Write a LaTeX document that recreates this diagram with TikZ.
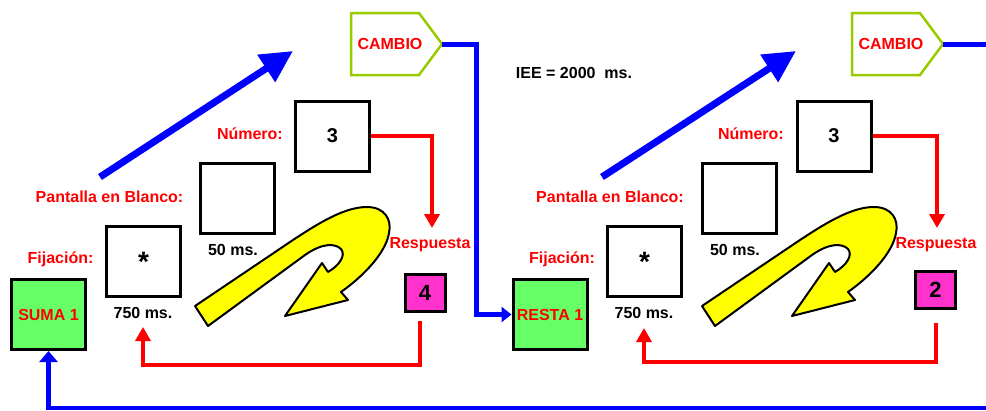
\documentclass[tikz,border=0pt]{standalone}
\usepackage{fontspec}
\setmainfont{Liberation Sans}
\usetikzlibrary{arrows.meta}
\definecolor{cred}{HTML}{FF0000}
\definecolor{cblue}{HTML}{0000FF}
\definecolor{cgreen}{HTML}{66FF66}
\definecolor{cmag}{HTML}{FF33CC}
\definecolor{cyel}{HTML}{FFFF00}
\definecolor{cbord}{HTML}{99CC00}
\tikzset{
  lbl/.style={font=\fontsize{16}{19}\selectfont\bfseries, text=cred, inner sep=0pt},
  blk/.style={font=\fontsize{16}{19}\selectfont\bfseries, text=black, inner sep=0pt},
  screen/.style={draw=black, line width=3pt, fill=white, minimum width=74pt, minimum height=70pt, inner sep=0pt},
  condbox/.style={screen, fill=cgreen, text=cred, font=\fontsize{16}{19}\selectfont\bfseries},
  respbox/.style={draw=black, line width=3pt, fill=cmag, minimum width=40pt, minimum height=37pt, inner sep=0pt, font=\fontsize{22}{24}\selectfont\bfseries},
  cambiobox/.style={draw=cbord, line width=2.5pt, fill=white},
  blueline/.style={draw=cblue, line width=5pt},
  redline/.style={draw=cred, line width=4pt},
  bigarrow/.style={draw=cblue, line width=7pt, -{Triangle[length=32pt,width=31pt]}},
  redtip/.style={-{Triangle[length=14pt,width=15pt]}},
  yarrow/.style={draw=black, line width=2pt, fill=cyel, line join=round},
  uturn/.pic={
    \path[yarrow] (195,306) -- (290,242) .. controls (320,222) and (345,207) .. (367,207)
      .. controls (385,207) and (392,220) .. (389,233)
      .. controls (386,252) and (365,275) .. (341,292) -- (348,300) -- (285,316) -- (322,263) -- (328,272)
      .. controls (340,265) and (346,255) .. (341,249)
      .. controls (335,243) and (322,243) .. (305,255) -- (208,326) -- cycle;
  }
}
\begin{document}
\begin{tikzpicture}[x=1pt,y=-1pt]
\useasboundingbox (0,0) rectangle (986,410);

% ---------- left half ----------
\path[cambiobox] (351,13) -- (419,13) -- (442,44) -- (419,75) -- (351,75) -- cycle;
\node[lbl] (cambioL) at (390,44) {CAMBIO};
\coordinate (cambioLtip) at (442,44);

\coordinate (bigLstart) at (100,177);
\coordinate (bigLend) at (293,51);
\draw[bigarrow] (bigLstart) -- (bigLend);

\node[screen, font=\fontsize{20}{22}\selectfont\bfseries] (numL) at (332.5,136) {3};
\node[lbl, anchor=east] (numlblL) at (283,134) {Número:};

\node[screen] (blankL) at (237.5,198) {};
\node[lbl] (pantL) at (109.5,197) {Pantalla en Blanco:};
\node[blk] (ms50L) at (233,250) {50 ms.};

\node[screen, font=\fontsize{28}{28}\selectfont\bfseries] (fixL) at (143.5,261.5) {\raisebox{-6pt}{*}};
\node[lbl] (fijL) at (60.5,259) {Fijación:};
\node[blk] (ms750L) at (143,313) {750 ms.};

\node[condbox] (sumaL) at (48.5,314.5) {SUMA 1};

\node[lbl] (respL) at (430,245) {Respuesta};
\node[respbox] (r4) at (425,293) {4};

\pic at (0,0) {uturn};

\coordinate (respLtop) at (432,228);
\draw[redline, redtip] (numL.east) -- (432,136) -- (respLtop);
\coordinate (retLstart) at (420,321);
\coordinate (retLend) at (143,327);
\draw[redline, redtip] (retLstart) -- (420,365) -| (retLend);

% ---------- right half ----------
\node[blk] (iee) at (574,73) {IEE = 2000\ \ ms.};

\path[cambiobox] (852,13) -- (920,13) -- (943,44) -- (920,75) -- (852,75) -- cycle;
\node[lbl] (cambioR) at (891,44) {CAMBIO};
\coordinate (cambioRtip) at (943,44);
\coordinate (rightedgeT) at (986,44);
\draw[blueline] (cambioRtip) -- (rightedgeT);

\coordinate (bigRstart) at (602,177);
\coordinate (bigRend) at (796,51);
\draw[bigarrow] (bigRstart) -- (bigRend);

\node[screen, font=\fontsize{20}{22}\selectfont\bfseries] (numR) at (834,136) {3};
\node[lbl, anchor=east] (numlblR) at (784,134) {Número:};

\node[screen] (blankR) at (739,198) {};
\node[lbl] (pantR) at (610,197) {Pantalla en Blanco:};
\node[blk] (ms50R) at (735,250) {50 ms.};

\node[screen, font=\fontsize{28}{28}\selectfont\bfseries] (fixR) at (644.5,261.5) {\raisebox{-6pt}{*}};
\node[lbl] (fijR) at (562,259) {Fijación:};
\node[blk] (ms750R) at (644,313) {750 ms.};

\node[condbox] (restaR) at (550,314.5) {RESTA 1};

\node[lbl] (respR) at (936,245) {Respuesta};
\node[respbox] (r2) at (935.5,289.5) {2};

\pic at (507,0) {uturn};

\coordinate (respRtop) at (937,228);
\draw[redline, redtip] (numR.east) -- (937,136) -- (respRtop);
\coordinate (retRstart) at (936,323);
\coordinate (retRend) at (644,328);
\draw[redline, redtip] (retRstart) -- (936,362) -| (retRend);

% ---------- blue connectors ----------
\draw[blueline, -{Triangle[length=10pt,width=15pt]}] (cambioLtip) -- (476,44) |- (restaR.west);
\coordinate (rightedgeB) at (986,408);
\draw[draw=cblue, line width=4.5pt, -{Triangle[length=11pt,width=18pt]}] (rightedgeB) -| (sumaL.south);
\end{tikzpicture}
\end{document}
